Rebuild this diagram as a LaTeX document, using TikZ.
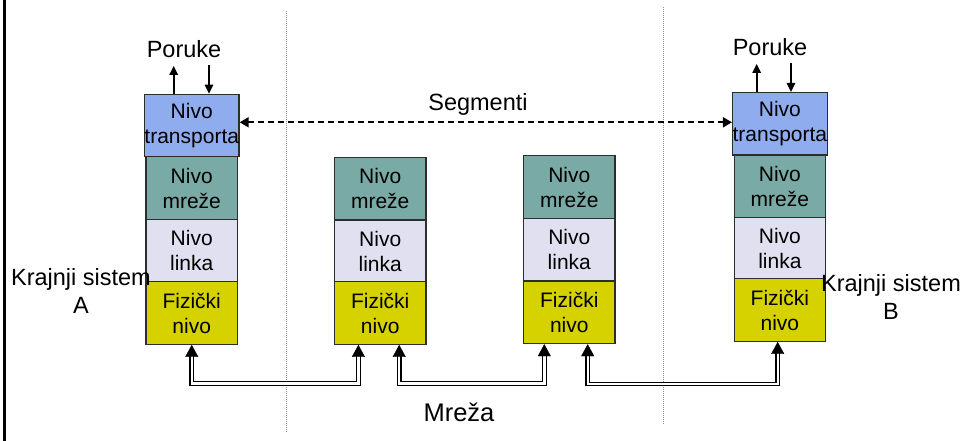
\documentclass[tikz,border=0pt]{standalone}
\usepackage{fontspec}
\setmainfont{Liberation Sans}
\usetikzlibrary{arrows.meta}
\definecolor{transcol}{RGB}{143,172,238}
\definecolor{netcol}{RGB}{122,170,166}
\definecolor{linkcol}{RGB}{224,224,240}
\definecolor{physcol}{RGB}{214,210,0}
\definecolor{bordcol}{RGB}{45,45,45}
\begin{document}
\begin{tikzpicture}[x=1pt,y=-1pt,
  layer/.style={draw=bordcol, line width=1.3pt, inner sep=0pt, align=center,
    minimum width=91.5pt, minimum height=62.5pt,
    font=\fontsize{21}{25}\selectfont},
  trans/.style={layer, fill=transcol},
  netw/.style={layer, fill=netcol},
  link/.style={layer, fill=linkcol},
  phys/.style={layer, fill=physcol},
  lbl/.style={inner sep=0pt, font=\fontsize{23.5}{28.3}\selectfont, align=center},
  msg/.style={line width=1.6pt, -{Triangle[width=8.5pt,length=9pt]}},
  seg/.style={line width=1.7pt, dash pattern=on 6pt off 4pt,
    {Triangle[width=10pt,length=9pt]}-{Triangle[width=10pt,length=9pt]}},
  netline/.style={draw=black, double=white, double distance=2.4pt, line width=1.1pt,
    shorten <=11pt, shorten >=11pt},
  nettips/.style={draw=white, line width=0.4pt,
    {Triangle[width=13pt,length=12pt,black]}-{Triangle[width=13pt,length=12pt,black]}},
  sep/.style={draw=black!45, line width=0.8pt, dash pattern=on 1pt off 1pt}
]
\useasboundingbox (0,0) rectangle (962,441);
\fill[white] (0,0) rectangle (962,441);

% frame line on the left
\draw[line width=2.3pt] (4.5,0) -- (4.5,441);

% dotted separators
\draw[sep] (286.5,11) -- (286.5,432);
\draw[sep] (663.5,7) -- (663.5,425);

% end system A
\node[trans] (tA) at (191.75,125.5) {Nivo\\transporta};
\node[netw]  (nA) at (191.75,188)   {Nivo\\mreže};
\node[link]  (lA) at (191.75,250.5) {Nivo\\linka};
\node[phys]  (pA) at (191.75,313)   {Fizički\\nivo};

% router 1
\node[netw] (n1) at (380.2,188.8) {Nivo\\mreže};
\node[link] (l1) at (380.2,251.2) {Nivo\\linka};
\node[phys] (p1) at (380.2,313)   {Fizički\\nivo};

% router 2
\node[netw] (n2) at (569.3,187)   {Nivo\\mreže};
\node[link] (l2) at (569.3,249.5) {Nivo\\linka};
\node[phys] (p2) at (569.3,312.3) {Fizički\\nivo};

% end system B
\node[trans] (tB) at (779.9,123.8) {Nivo\\transporta};
\node[netw]  (nB) at (779.9,186.2) {Nivo\\mreže};
\node[link]  (lB) at (779.9,248.6) {Nivo\\linka};
\node[phys]  (pB) at (779.9,310)   {Fizički\\nivo};

% labels
\node[lbl, anchor=base] (porA) at (184,57.3) {Poruke};
\node[lbl, anchor=base] (porB) at (770,56) {Poruke};
\node[lbl, anchor=base] (segl) at (478,110.7) {Segmenti};
\node[lbl] (ksA) at (81,290.7) {Krajnji sistem\\A};
\node[lbl] (ksB) at (891,296.7) {Krajnji sistem\\B};
\node[inner sep=0pt, font=\fontsize{25.5}{30}\selectfont, anchor=base] (mreza) at (459,421) {Mreža};

% message arrows
\coordinate (aUp) at (173.7,66);
\coordinate (aDn) at (209,65);
\coordinate (bUp) at (756.7,64);
\coordinate (bDn) at (791,63);
\draw[msg] (tA.north -| aUp) -- (aUp);
\draw[msg] (aDn) -- (tA.north -| aDn);
\draw[msg] (tB.north -| bUp) -- (bUp);
\draw[msg] (bDn) -- (tB.north -| bDn);

% segments (dashed)
\coordinate (segy) at (480,122.3);
\draw[seg] (tA.east |- segy) -- (tB.west |- segy);

% physical connections: double line, then the two arrow heads
\draw[netline] (pA.south) -- ++(0,38.5) -| ([xshift=-21.8pt]p1.south);
\draw[nettips] (pA.south) -- ++(0,38.5) -| ([xshift=-21.8pt]p1.south);
\draw[netline] ([xshift=19pt]p1.south) -- ++(0,38.5) -| ([xshift=-25pt]p2.south);
\draw[nettips] ([xshift=19pt]p1.south) -- ++(0,38.5) -| ([xshift=-25pt]p2.south);
\draw[netline] ([xshift=18.4pt]p2.south) -- ++(0,39.8) -| ([xshift=-2.2pt]pB.south);
\draw[nettips] ([xshift=18.4pt]p2.south) -- ++(0,39.8) -| ([xshift=-2.2pt]pB.south);
\end{tikzpicture}
\end{document}
